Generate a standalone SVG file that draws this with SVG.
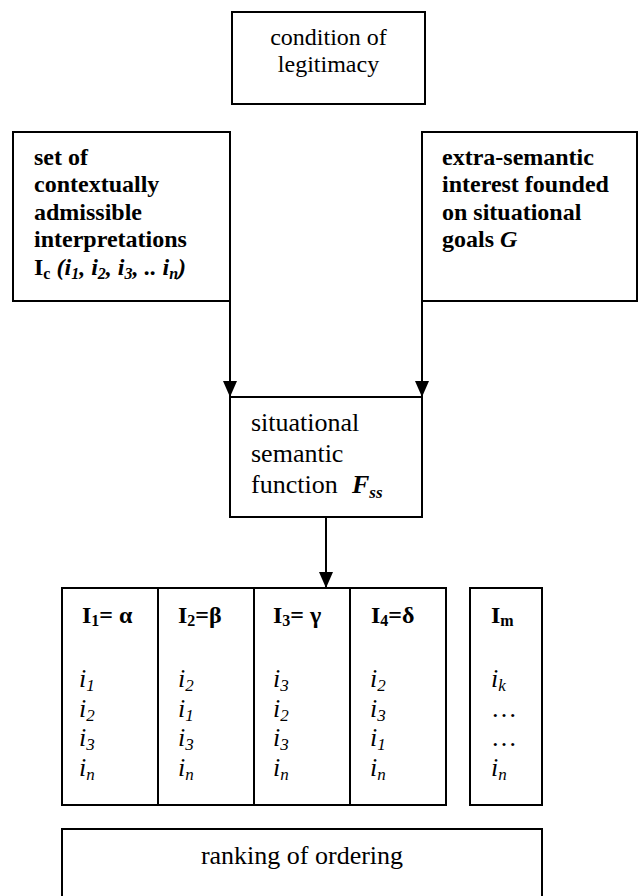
<svg xmlns="http://www.w3.org/2000/svg" width="639" height="896" viewBox="0 0 639 896">
<defs>
<style>
.box{fill:#fff;stroke:#000;stroke-width:2}
.ln{stroke:#000;stroke-width:2;fill:none}
text{font-family:'Liberation Serif','Tinos','DejaVu Serif','Times New Roman',serif;fill:#000}
.r{font-size:26px}
.t{font-size:24px}
.b{font-size:24px;font-weight:bold}
.it{font-size:26px;font-style:italic}
.sub{font-size:17px}
.bs{font-size:16px}
</style>
<marker id="ah" viewBox="0 0 16 14" refX="16" refY="7" markerWidth="16" markerHeight="14" markerUnits="userSpaceOnUse" orient="auto">
<path d="M0,0 L16,7 L0,14 Z" fill="#000"/>
</marker>
</defs>
<rect width="639" height="896" fill="#fff"/>

<g id="condition">
<rect class="box" x="232" y="12" width="193" height="92"/>
<text class="t" x="328.5" y="45" text-anchor="middle" font-family="Liberation Serif, serif">condition of</text>
<text class="t" x="328.5" y="72" text-anchor="middle" font-family="Liberation Serif, serif">legitimacy</text>
</g>

<g id="interpretations">
<rect class="box" x="13" y="132" width="217" height="169"/>
<text class="b" x="34" y="165">set of</text>
<text class="b" x="34" y="192">contextually</text>
<text class="b" x="34" y="220">admissible</text>
<text class="b" x="34" y="247">interpretations</text>
<text class="b" x="34" y="275">I<tspan class="bs" dy="4">c</tspan><tspan dy="-4" font-style="italic"> (i</tspan><tspan class="bs" dy="4" font-style="italic">1</tspan><tspan dy="-4" font-style="italic">, i</tspan><tspan class="bs" dy="4" font-style="italic">2</tspan><tspan dy="-4" font-style="italic">, i</tspan><tspan class="bs" dy="4" font-style="italic">3</tspan><tspan dy="-4" font-style="italic">, .. i</tspan><tspan class="bs" dy="4" font-style="italic">n</tspan><tspan dy="-4" font-style="italic">)</tspan></text>
</g>

<g id="interest">
<rect class="box" x="422" y="132" width="215" height="169"/>
<text class="b" x="442" y="165">extra-semantic</text>
<text class="b" x="442" y="192">interest founded</text>
<text class="b" x="442" y="220">on situational</text>
<text class="b" x="442" y="247">goals <tspan font-style="italic">G</tspan></text>
</g>

<g id="function">
<rect class="box" x="230" y="397" width="192" height="120"/>
<text class="r" x="251" y="431">situational</text>
<text class="r" x="251" y="462">semantic</text>
<text class="r" x="251" y="493">function  <tspan font-weight="bold" font-style="italic" x="352">F</tspan><tspan font-weight="bold" font-style="italic" class="sub" dy="5">ss</tspan></text>
</g>

<g id="table">
<rect class="box" x="62" y="588" width="384" height="217"/>
<line class="ln" x1="158" y1="588" x2="158" y2="805"/>
<line class="ln" x1="254" y1="588" x2="254" y2="805"/>
<line class="ln" x1="350" y1="588" x2="350" y2="805"/>
<text class="b" x="82" y="623">I<tspan class="bs" dy="3">1</tspan><tspan dy="-3">= α</tspan></text>
<text class="b" x="178" y="623">I<tspan class="bs" dy="3">2</tspan><tspan dy="-3">=β</tspan></text>
<text class="b" x="273" y="623">I<tspan class="bs" dy="3">3</tspan><tspan dy="-3">= γ</tspan></text>
<text class="b" x="371" y="623">I<tspan class="bs" dy="3">4</tspan><tspan dy="-3">=δ</tspan></text>

<text class="it" x="79" y="687">i<tspan class="sub" dy="4">1</tspan></text>
<text class="it" x="79" y="717">i<tspan class="sub" dy="4">2</tspan></text>
<text class="it" x="79" y="746">i<tspan class="sub" dy="4">3</tspan></text>
<text class="it" x="79" y="776">i<tspan class="sub" dy="4">n</tspan></text>

<text class="it" x="178" y="687">i<tspan class="sub" dy="4">2</tspan></text>
<text class="it" x="178" y="717">i<tspan class="sub" dy="4">1</tspan></text>
<text class="it" x="178" y="746">i<tspan class="sub" dy="4">3</tspan></text>
<text class="it" x="178" y="776">i<tspan class="sub" dy="4">n</tspan></text>

<text class="it" x="273" y="687">i<tspan class="sub" dy="4">3</tspan></text>
<text class="it" x="273" y="717">i<tspan class="sub" dy="4">2</tspan></text>
<text class="it" x="273" y="746">i<tspan class="sub" dy="4">3</tspan></text>
<text class="it" x="273" y="776">i<tspan class="sub" dy="4">n</tspan></text>

<text class="it" x="370" y="687">i<tspan class="sub" dy="4">2</tspan></text>
<text class="it" x="370" y="717">i<tspan class="sub" dy="4">3</tspan></text>
<text class="it" x="370" y="746">i<tspan class="sub" dy="4">1</tspan></text>
<text class="it" x="370" y="776">i<tspan class="sub" dy="4">n</tspan></text>
</g>

<g id="im">
<rect class="box" x="470" y="588" width="72" height="217"/>
<text class="b" x="491" y="623">I<tspan class="bs" dy="3">m</tspan></text>
<text class="it" x="491" y="687">i<tspan class="sub" dy="4">k</tspan></text>
<text class="r" x="491" y="717" font-size="20">…</text>
<text class="r" x="491" y="746" font-size="20">…</text>
<text class="it" x="491" y="776">i<tspan class="sub" dy="4">n</tspan></text>
</g>

<g id="ranking">
<path class="box" d="M62,897 L62,829 L542,829 L542,897"/>
<text class="r" x="302" y="864" text-anchor="middle">ranking of ordering</text>
</g>

<g id="connectors">
<line class="ln" x1="230" y1="301" x2="230" y2="397" marker-end="url(#ah)"/>
<line class="ln" x1="422" y1="301" x2="422" y2="397" marker-end="url(#ah)"/>
<line class="ln" x1="326" y1="517" x2="326" y2="588" marker-end="url(#ah)"/>
</g>
</svg>
